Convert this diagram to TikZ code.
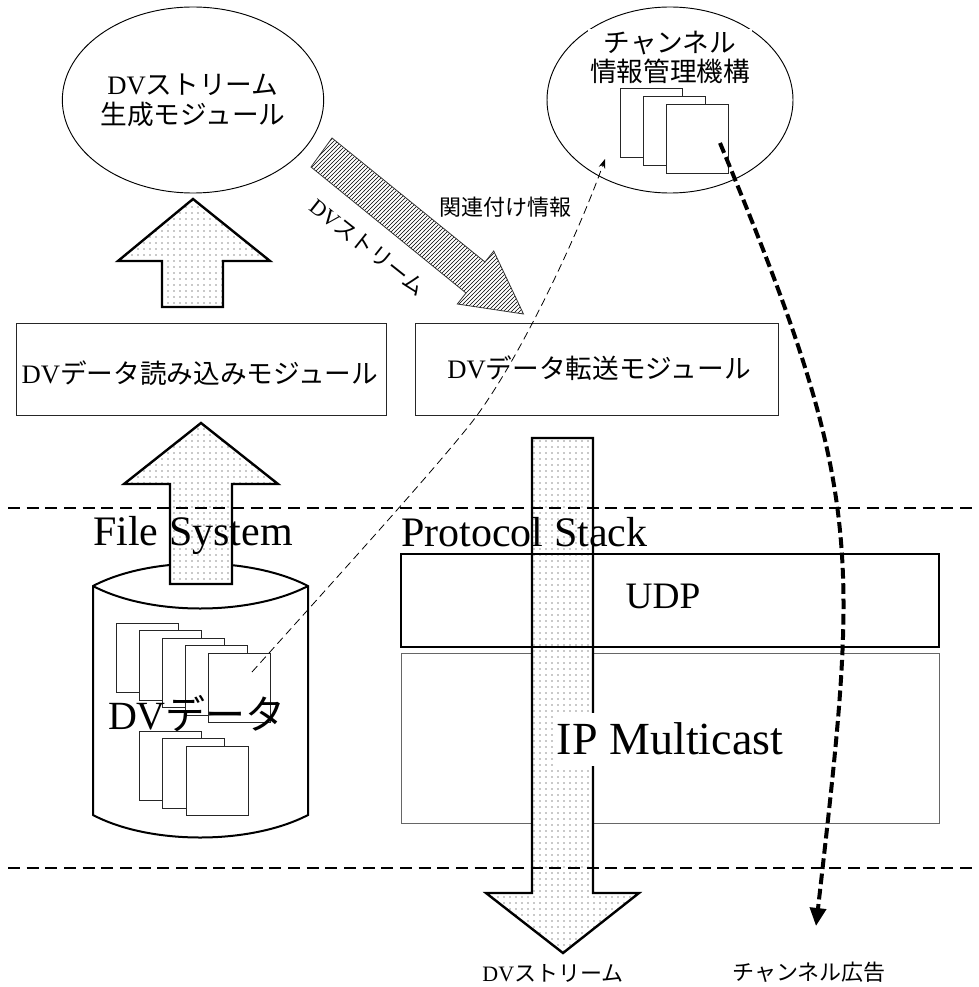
\documentclass[tikz,border=0pt]{standalone}
\usepackage{fontspec}
\setmainfont{Liberation Serif}
\newfontfamily\cjkfont{Noto Sans CJK JP}
\usetikzlibrary{patterns,arrows.meta,shapes.geometric}
\pgfdeclarepatternformonly{sparsedots}{\pgfqpoint{-0.6pt}{-0.6pt}}{\pgfqpoint{0.6pt}{0.6pt}}{\pgfqpoint{4.5pt}{4.5pt}}{\pgfpathcircle{\pgfqpoint{0pt}{0pt}}{0.45pt}\pgfusepath{fill}}
\tikzset{
  fatarrow/.style={draw=black, line width=1.8pt, line join=miter, preaction={fill=white}, pattern=sparsedots, pattern color=black!90},
  hatcharrow/.style={draw=black!80, line width=0.6pt, line join=miter, preaction={fill=white}, pattern=north east lines, pattern color=black},
  modbox/.style={draw=black!85, line width=0.7pt, inner sep=0pt},
  sheet/.style={draw=black!85, fill=white, line width=0.6pt},
  sepline/.style={line width=1.8pt, dash pattern=on 9pt off 5pt},
  assocline/.style={line width=0.6pt, dash pattern=on 6pt off 3.5pt, -{Stealth[length=7pt,width=5pt]}},
  chanline/.style={line width=3pt, dash pattern=on 8pt off 3.5pt, -{Triangle[length=13.5pt,width=12pt]}},
  jpmid/.style={font=\fontsize{20pt}{22.5pt}\selectfont},
  jpsmall/.style={font=\fontsize{16.5pt}{19pt}\selectfont},
  bigtitle/.style={font=\fontsize{31.5pt}{36pt}\selectfont, inner sep=0pt},
}
\begin{document}
\begin{tikzpicture}[x=0.75pt,y=-0.75pt]
\useasboundingbox (0,0) rectangle (978,987);

% ---- ellipses ----
\node[ellipse, draw, line width=0.7pt, minimum width=184.5pt, minimum height=139.5pt, inner sep=0pt, align=center, jpmid] (gen) at (193,100)
  {DV{\cjkfont ストリーム}\\{\cjkfont 生成モジュール}};
\node[ellipse, draw, line width=0.7pt, minimum width=184.5pt, minimum height=139.5pt, inner sep=0pt] (chmgr) at (670,100) {};
\node[fill=white, inner sep=1.5pt, align=center, font=\fontsize{20pt}{21.75pt}\selectfont\cjkfont] (chmgrtxt) at (670,57.5)
  {チャンネル\\情報管理機構};
\foreach \i in {0,1,2}
  \draw[sheet] ({620+23*\i},{88+8*\i}) rectangle +(62,69.5);
\coordinate (chsrc) at (720,143);

% ---- upper up arrow ----
\draw[fatarrow] (162,307) -- (162,261) -- (118,261) -- (193,199) -- (270,261) -- (223,261) -- (223,307) -- cycle;

% ---- hatched arrow ----
\draw[hatcharrow] (311,167) -- (332,138) -- (485,262) -- (493.7,251) -- (523.5,314) -- (457.3,304) -- (466,293) -- cycle;
\node[jpsmall, rotate=-38.5, inner sep=0pt] (streamlbl) at (368,247) {DV{\cjkfont ストリーム}};
\node[jpsmall, inner sep=0pt] (assoclbl) at (505,207) {\cjkfont 関連付け情報};

% ---- module boxes ----
\node[modbox, minimum width=277.5pt, minimum height=69pt] (readmod) at (201,369) {};
\node[jpmid, inner sep=0pt] (readtxt) at (200,373) {DV{\cjkfont データ読み込みモジュール}};
\node[modbox, minimum width=272.25pt, minimum height=69pt] (sendmod) at (596.5,369) {};
\node[jpmid, inner sep=0pt] (sendtxt) at (599,368) {DV{\cjkfont データ転送モジュール}};

% ---- cylinder ----
\fill[white] (93,586) -- (93,815) .. controls (150,845) and (250,845) .. (308,815) -- (308,586) .. controls (250,556) and (150,556) .. cycle;
\draw[line width=1.5pt] (93,586) -- (93,815) .. controls (150,845) and (250,845) .. (308,815) -- (308,586) .. controls (250,556) and (150,556) .. cycle;
\draw[line width=1.5pt] (93,586) .. controls (150,616) and (250,616) .. (308,586);
\foreach \i in {0,...,4}
  \draw[sheet] ({116+23*\i},{623+7.5*\i}) rectangle +(62,69.5);
\foreach \i in {0,1,2}
  \draw[sheet] ({139+23.5*\i},{731+7.5*\i}) rectangle +(62,69.5);
\node[font=\fontsize{30pt}{34pt}\selectfont, inner sep=0pt] (dvdata) at (197,714) {DV{\cjkfont データ}};
\coordinate (assocsrc) at (252,672);

% ---- lower up arrow ----
\draw[fatarrow] (170,584) -- (170,484) -- (124,484) -- (201,423) -- (278,484) -- (232,484) -- (232,584) -- cycle;
\node[bigtitle, anchor=base west] (fs) at (93,545) {File System};

% ---- protocol stack ----
\node[draw=black!60, line width=0.6pt, minimum width=403.5pt, minimum height=127.5pt, inner sep=0pt] (ipbox) at (670,738) {};
\draw[fatarrow] (532,438) -- (593,438) -- (593,893) -- (639,893) -- (563,953) -- (486,893) -- (532,893) -- cycle;
\node[draw, line width=2pt, minimum width=403.5pt, minimum height=69.75pt, inner sep=0pt] (udpbox) at (670,600.5) {};
\node[font=\fontsize{28pt}{32pt}\selectfont, inner sep=0pt] (udptxt) at (663,596) {UDP};
\node[fill=white, inner sep=0pt, minimum height=39.75pt, font=\fontsize{34.5pt}{40pt}\selectfont] (iptxt) at (670,739) {IP Multicast};
\node[bigtitle, anchor=base west] (ps) at (401,546) {Protocol Stack};

% ---- separator lines ----
\coordinate (sepAl) at (8,508);
\coordinate (sepAr) at (978,508);
\coordinate (sepBl) at (8,868);
\coordinate (sepBr) at (978,868);
\draw[sepline] (sepAl) -- (sepAr);
\draw[sepline] (sepBl) -- (sepBr);

% ---- connectors ----
\coordinate (assocmid) at (472,422);
\coordinate (assocdst) at (605,159);
\draw[assocline] (assocsrc) .. controls (330,585) and (430,475) .. (assocmid) .. controls (520,360) and (580,230) .. (assocdst);
\coordinate (chdst) at (816,926);
\draw[chanline] (chsrc) .. controls (866,494) and (859,548) .. (chdst);

% ---- bottom labels ----
\node[jpsmall, inner sep=0pt] (outlbl) at (553,973) {DV{\cjkfont ストリーム}};
\node[jpsmall, inner sep=0pt] (adlbl) at (809,972) {\cjkfont チャンネル広告};
\end{tikzpicture}
\end{document}
